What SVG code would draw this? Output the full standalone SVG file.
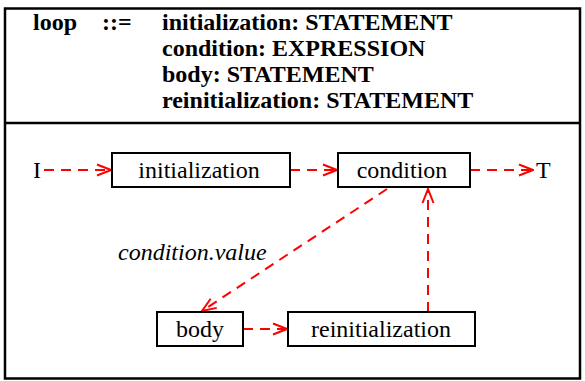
<svg xmlns="http://www.w3.org/2000/svg" width="585" height="381" viewBox="0 0 585 381">
<style>
.frame{fill:none;stroke:#000;stroke-width:2.5}
.box{fill:#fff;stroke:#000;stroke-width:2}
.hd{font-family:'Liberation Serif',Tinos,'Times New Roman',Times,'DejaVu Serif',serif;font-size:24px;font-weight:bold;fill:#000}
.t{font-family:'Liberation Serif',Tinos,'Times New Roman',Times,'DejaVu Serif',serif;font-size:24px;fill:#000}
.it{font-family:'Liberation Serif',Tinos,'Times New Roman',Times,'DejaVu Serif',serif;font-size:24px;font-style:italic;fill:#000}
.c{fill:none;stroke:#f00;stroke-width:2;stroke-dasharray:10,7}
</style>
<defs>
<marker id="ah" viewBox="0 0 16 14" refX="15" refY="7" markerWidth="16" markerHeight="14" markerUnits="userSpaceOnUse" orient="auto">
<path d="M1,1.5 L15,7 L1,12.5" fill="none" stroke="#f00" stroke-width="2"/>
</marker>
</defs>
<rect class="frame" x="5" y="8.5" width="575" height="370"/>
<line x1="5" y1="123" x2="580" y2="123" stroke="#000" stroke-width="2.5"/>
<g id="header">
<text class="hd" x="33" y="30">loop</text>
<text class="hd" x="102" y="30">::=</text>
<text class="hd" x="162" y="30">initialization: STATEMENT</text>
<text class="hd" x="162" y="56">condition: EXPRESSION</text>
<text class="hd" x="162" y="82">body: STATEMENT</text>
<text class="hd" x="162" y="108">reinitialization: STATEMENT</text>
</g>
<g id="connectors">
<line class="c" x1="44" y1="170" x2="111" y2="170" marker-end="url(#ah)"/>
<line class="c" x1="290" y1="170" x2="337" y2="170" marker-end="url(#ah)"/>
<line class="c" x1="470" y1="170" x2="533" y2="170" marker-end="url(#ah)"/>
<line class="c" x1="387" y1="189" x2="202" y2="311" marker-end="url(#ah)"/>
<line class="c" x1="243" y1="329" x2="287" y2="329" marker-end="url(#ah)"/>
<line class="c" x1="428" y1="312" x2="428" y2="189" marker-end="url(#ah)"/>
<text class="it" x="118" y="260">condition.value</text>
</g>
<g id="I"><text class="t" x="33" y="178">I</text></g>
<g id="T"><text class="t" x="536" y="178">T</text></g>
<g id="initialization">
<rect class="box" x="112" y="153" width="178" height="34"/>
<text class="t" x="199" y="178" text-anchor="middle">initialization</text>
</g>
<g id="condition">
<rect class="box" x="338" y="153" width="132" height="34"/>
<text class="t" x="402" y="178" text-anchor="middle">condition</text>
</g>
<g id="body">
<rect class="box" x="157" y="312" width="86" height="34"/>
<text class="t" x="200" y="337" text-anchor="middle">body</text>
</g>
<g id="reinitialization">
<rect class="box" x="288" y="312" width="187" height="34"/>
<text class="t" x="381" y="337" text-anchor="middle">reinitialization</text>
</g>
</svg>
